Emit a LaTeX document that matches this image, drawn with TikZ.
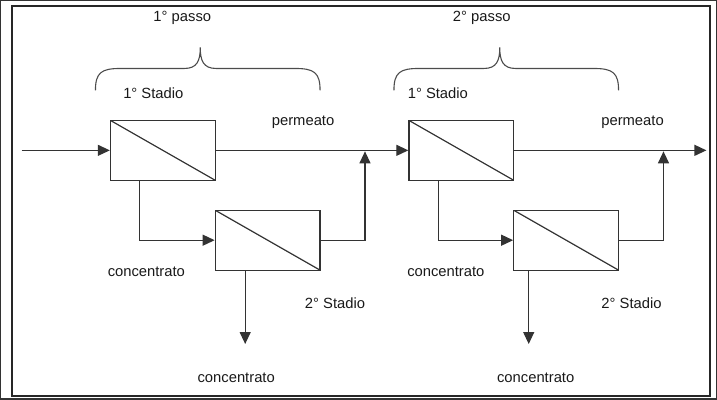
\documentclass[tikz,border=0pt]{standalone}
\usepackage{fontspec}
\setmainfont{Liberation Sans}
\usetikzlibrary{arrows.meta,calc}
\begin{document}
\begin{tikzpicture}[x=1pt,y=-1pt,
  line width=1.2pt,
  every path/.style={draw=black!80},
  box/.style={draw=black!80,rectangle,minimum width=105pt,minimum height=60pt,inner sep=0pt,
    path picture={\draw[black!80,line width=1.2pt] (path picture bounding box.north west) -- (path picture bounding box.south east);}},
  flow/.style={-{Triangle[length=12pt,width=11pt]}},
  lbl/.style={font=\fontsize{14.8}{16}\selectfont,inner sep=0pt,text=black!90},
  brace/.style={line width=1.1pt,draw=black!70}]
\useasboundingbox (0,0) rectangle (717,399);
\draw[line width=2pt,black!85] (11,5) rectangle (711,396);

% boxes
\node[box] (b1) at (162.5,150) {};
\node[box] (b2) at (267.5,240) {};
\node[box] (b3) at (461.5,150) {};
\node[box] (b4) at (566.5,240) {};

% coordinates
\coordinate (in) at (21,150);
\coordinate (j1) at (365,151);
\coordinate (j2) at (664,151);
\coordinate (out) at (707,150);
\coordinate (c1) at (245,344);
\coordinate (c2) at (529,344);

% connectors
\draw[flow] (in) -- (b1.west);
\draw[flow] (b1.east) -- (b3.west);
\draw[flow] ($(b1.south west)+(30,0)$) |- (b2.west);
\draw[flow] (b2.east) -| (j1);
\draw[flow] (b2.south west -| c1) -- (c1);
\draw[flow] (b3.east) -- (out);
\draw[flow] ($(b3.south west)+(30,0)$) |- (b4.west);
\draw[flow] (b4.east) -| (j2);
\draw[flow] (b4.south west -| c2) -- (c2);

% braces
\draw[brace] (95,90) .. controls (95,72) and (101,68) .. (120,68) -- (184,68)
  .. controls (197,68) and (200,60) .. (200,47)
  .. controls (200,60) and (203,68) .. (216,68) -- (295,68)
  .. controls (314,68) and (320,72) .. (320,90);
\draw[brace] (394,90) .. controls (394,72) and (400,68) .. (419,68) -- (484,68)
  .. controls (497,68) and (500,60) .. (500,47)
  .. controls (500,60) and (503,68) .. (516,68) -- (594,68)
  .. controls (613,68) and (619,72) .. (619,90);

% labels
\node[lbl] (p1) at (182,17) {1° passo};
\node[lbl] (p2) at (482,17) {2° passo};
\node[lbl] (s11) at (153,93) {1° Stadio};
\node[lbl] (s21) at (438,93) {1° Stadio};
\node[lbl] (pm1) at (303,122) {permeato};
\node[lbl] (pm2) at (633,122) {permeato};
\node[lbl] (cc1) at (146,272) {concentrato};
\node[lbl] (cc2) at (446,272) {concentrato};
\node[lbl] (s12) at (335,303) {2° Stadio};
\node[lbl] (s22) at (632,303) {2° Stadio};
\node[lbl] (cb1) at (236,378) {concentrato};
\node[lbl] (cb2) at (536,378) {concentrato};
\end{tikzpicture}
\end{document}
